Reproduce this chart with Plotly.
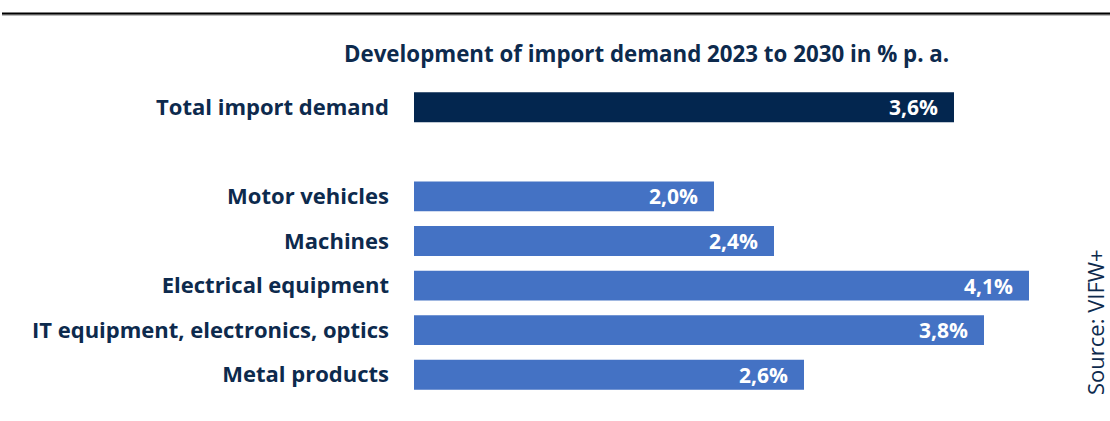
import plotly.graph_objects as go

# Annual growth of import demand, 2023-2030 (% p.a.)
categories = [
    "Total import demand",
    "",
    "Motor vehicles",
    "Machines",
    "Electrical equipment",
    "IT equipment, electronics, optics",
    "Metal products",
]
growth = [3.6, None, 2.0, 2.4, 4.1, 3.8, 2.6]
bar_colors = ["#03264F", "#4472C4", "#4472C4", "#4472C4", "#4472C4", "#4472C4", "#4472C4"]
value_labels = [f"{v:.1f}%".replace(".", ",") if v is not None else "" for v in growth]

NAVY = "#0D2A4D"
FONT = "Open Sans"

positions = list(range(len(categories)))

fig = go.Figure(
    go.Bar(
        x=growth,
        y=positions,
        orientation="h",
        marker=dict(color=bar_colors, line=dict(width=0)),
        width=0.67,
        hoverinfo="skip",
    )
)

# value labels sit inside the bar end, with some padding
annotations = [
    dict(
        x=v, y=p, xref="x", yref="y",
        text=f"<b>{lab}</b>",
        xanchor="right", yanchor="middle",
        xshift=-14,
        showarrow=False,
        font=dict(family=FONT, size=21, color="white"),
    )
    for v, p, lab in zip(growth, positions, value_labels)
    if v is not None
]

annotations += [
    dict(
        text="<b>Development of import demand 2023 to 2030 in % p. a.</b>",
        xref="paper", yref="paper",
        x=(646 - 414) / 696, y=1 + (85 - 54) / 312,
        xanchor="center", yanchor="middle",
        showarrow=False,
        font=dict(family=FONT, size=22.3, color=NAVY),
    ),
    dict(
        text="Source: VIFW+",
        xref="paper", yref="paper",
        x=1.0, xshift=2, y=(397 - 322) / 312,
        xanchor="right", yanchor="middle",
        textangle=-90,
        showarrow=False,
        font=dict(family=FONT, size=22, color=NAVY),
    ),
]

fig.update_layout(
    width=1110,
    height=421,
    margin=dict(l=414, r=0, t=85, b=24),
    paper_bgcolor="white",
    plot_bgcolor="white",
    showlegend=False,
    font=dict(family=FONT, color=NAVY),
    xaxis=dict(range=[0, 4.64], visible=False, fixedrange=True),
    yaxis=dict(
        range=[6.5, -0.5],
        tickmode="array",
        tickvals=positions,
        ticktext=[f"<b>{c}</b>" if c else "" for c in categories],
        showgrid=False,
        zeroline=False,
        showline=False,
        ticks="",
        ticklabelstandoff=24,
        tickfont=dict(family=FONT, size=22, color=NAVY),
    ),
    annotations=annotations,
    shapes=[
        dict(type="line", xref="paper", yref="paper",
             x0=-412 / 696, x1=1.0, y0=1 + (85 - 15) / 312, y1=1 + (85 - 15) / 312,
             line=dict(color="#BBBBBB", width=2)),
        dict(type="line", xref="paper", yref="paper",
             x0=-412 / 696, x1=1.0, y0=1 + (85 - 13.5) / 312, y1=1 + (85 - 13.5) / 312,
             line=dict(color="black", width=2)),
    ],
)

fig.write_html("out.html")
